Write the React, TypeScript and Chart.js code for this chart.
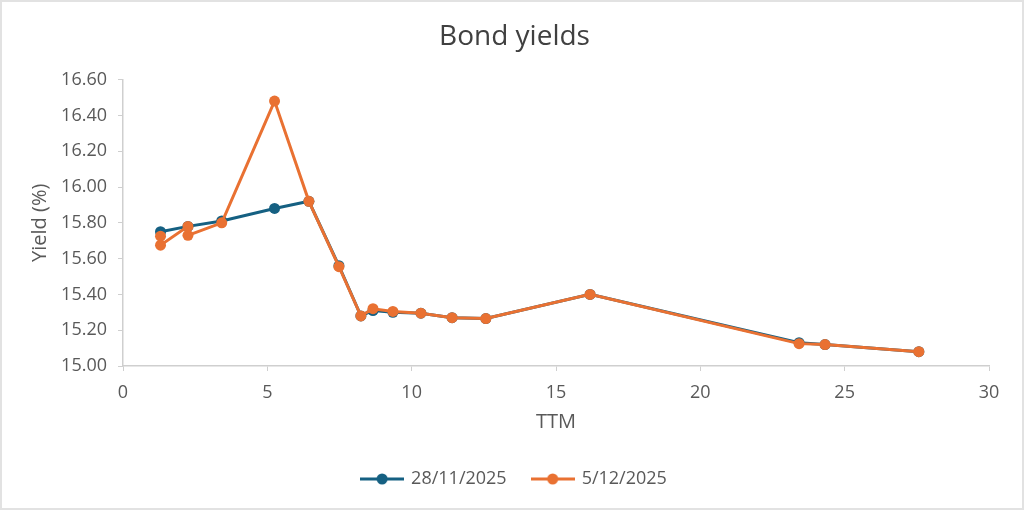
import React, { useEffect, useRef } from "react";
import { Chart, registerables } from "chart.js";

Chart.register(...registerables);

const chartTitle = "Bond yields";
const xAxisTitle = "TTM";
const yAxisTitle = "Yield (%)";

const seriesNames = ["28/11/2025", "5/12/2025"];
const seriesColors = ["#156082", "#E97132"];

const ttmA = [1.3, 2.25, 3.42, 5.25, 6.44, 7.48, 8.24, 8.66, 9.35, 10.32, 11.4, 12.57, 16.18, 23.42, 24.32, 27.57];
const yieldA = [15.75, 15.78, 15.81, 15.88, 15.92, 15.56, 15.28, 15.31, 15.3, 15.295, 15.27, 15.265, 15.4, 15.13, 15.12, 15.08];

const ttmB = [1.3, 1.3, 2.25, 2.25, 3.42, 5.25, 6.44, 7.48, 8.24, 8.66, 9.35, 10.32, 11.4, 12.57, 16.18, 23.42, 24.32, 27.57];
const yieldB = [15.725, 15.675, 15.78, 15.73, 15.8, 16.48, 15.92, 15.555, 15.28, 15.32, 15.305, 15.295, 15.27, 15.265, 15.4, 15.125, 15.12, 15.08];

const xMin = 0;
const xMax = 30;
const xStep = 5;
const yMin = 15.0;
const yMax = 16.6;
const yStep = 0.2;

const FONT = "'Open Sans', sans-serif";
const TEXT = "#595959";
const AXIS = "#cfcfcf";

function legendImage(color: string) {
  const c = document.createElement("canvas");
  c.width = 44;
  c.height = 12;
  const g = c.getContext("2d")!;
  g.strokeStyle = color;
  g.lineWidth = 3;
  g.beginPath();
  g.moveTo(0, 6);
  g.lineTo(44, 6);
  g.stroke();
  g.fillStyle = color;
  g.beginPath();
  g.arc(22, 6, 5.5, 0, Math.PI * 2);
  g.fill();
  return c;
}

export default function App() {
  const ref = useRef<HTMLCanvasElement>(null);
  useEffect(() => {
    if (!ref.current) return;
    const images = seriesColors.map(legendImage);
    const mk = (xs: number[], ys: number[]) => xs.map((x, i) => ({ x, y: ys[i] }));
    const chart = new Chart(ref.current, {
      type: "line",
      data: {
        datasets: [
          {
            label: seriesNames[0],
            data: mk(ttmA, yieldA),
            borderColor: seriesColors[0],
            backgroundColor: seriesColors[0],
            borderWidth: 3,
            pointRadius: 5.5,
            pointBorderWidth: 0,
            pointHoverRadius: 5.5,
            tension: 0,
            order: 2,
          },
          {
            label: seriesNames[1],
            data: mk(ttmB, yieldB),
            borderColor: seriesColors[1],
            backgroundColor: seriesColors[1],
            borderWidth: 3,
            pointRadius: 5.5,
            pointBorderWidth: 0,
            pointHoverRadius: 5.5,
            tension: 0,
            order: 1,
          },
        ],
      },
      options: {
        animation: false,
        responsive: false,
        layout: { padding: { left: 20, right: 15, top: 0, bottom: 12 } },
        plugins: {
          title: {
            display: true,
            text: chartTitle,
            color: "#404040",
            font: { family: FONT, size: 28, weight: "normal" },
            padding: { top: 20, bottom: 26 },
          },
          legend: {
            position: "bottom",
            labels: {
              usePointStyle: true,
              pointStyleWidth: 40,
              boxHeight: 12,
              padding: 26,
              color: TEXT,
              font: { family: FONT, size: 18 },
              generateLabels: (ch: any) =>
                ch.data.datasets.map((ds: any, i: number) => ({
                  text: ds.label,
                  pointStyle: images[i],
                  fillStyle: seriesColors[i],
                  strokeStyle: seriesColors[i],
                  fontColor: TEXT,
                  lineWidth: 0,
                  hidden: false,
                  datasetIndex: i,
                })),
            },
          },
          tooltip: { enabled: false },
        },
        scales: {
          x: {
            type: "linear",
            min: xMin,
            max: xMax,
            ticks: {
              stepSize: xStep,
              color: TEXT,
              font: { family: FONT, size: 18 },
              padding: 11,
            },
            grid: { drawOnChartArea: false, drawTicks: true, tickLength: 5, color: AXIS },
            border: { color: AXIS, width: 1.5 },
            title: {
              display: true,
              text: xAxisTitle,
              color: TEXT,
              font: { family: FONT, size: 20 },
              padding: { top: 0, bottom: 10 },
            },
            afterFit: (s: any) => {
              s.height = 78;
            },
          },
          y: {
            type: "linear",
            position: "left",
            min: yMin,
            max: yMax,
            ticks: {
              stepSize: yStep,
              color: TEXT,
              font: { family: FONT, size: 18 },
              padding: 11,
              callback: (v: any) => Number(v).toFixed(2),
            },
            grid: { drawOnChartArea: false, drawTicks: true, tickLength: 5, color: AXIS },
            border: { color: AXIS, width: 1.5 },
            title: {
              display: true,
              text: yAxisTitle,
              color: TEXT,
              font: { family: FONT, size: 20 },
              padding: { top: 8, bottom: 0 },
            },
            afterFit: (s: any) => {
              s.width = 103;
            },
          },
          yRight: {
            type: "linear",
            position: "right",
            display: true,
            min: yMin,
            max: yMax,
            ticks: { display: false },
            grid: { display: false },
            border: { display: false },
            afterFit: (s: any) => {
              s.width = 20;
            },
          },
        },
      },
    });
    return () => chart.destroy();
  }, []);
  return (
    <div style={{ position: "absolute", left: 0, top: 0, width: 1024, height: 510, background: "#fff" }}>
      <div
        style={{
          position: "absolute",
          left: 0,
          top: 0,
          width: 1024,
          height: 510,
          boxSizing: "border-box",
          border: "2px solid #e2e2e2",
        }}
      />
      <canvas ref={ref} width={1024} height={510} style={{ position: "absolute", left: 0, top: 0 }} />
    </div>
  );
}
